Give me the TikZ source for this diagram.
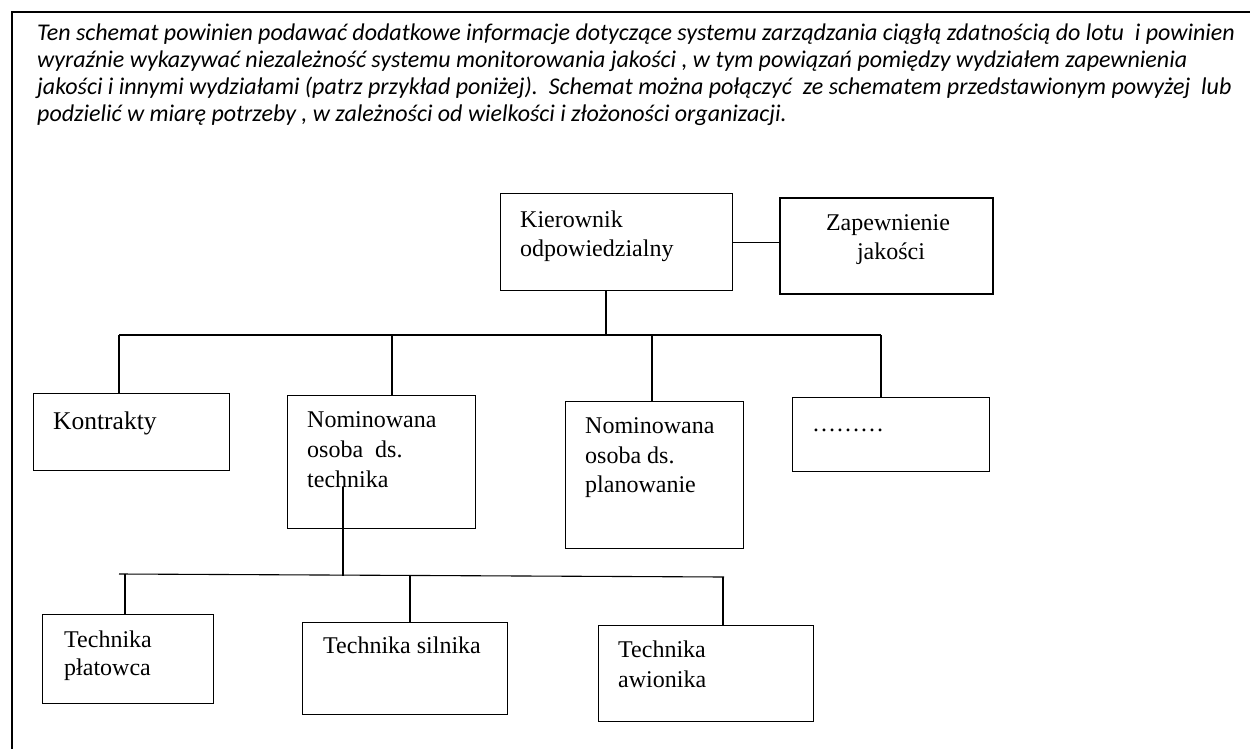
\documentclass[tikz,border=0pt]{standalone}
\usepackage{fontspec}
\setmainfont{Liberation Serif}
\newfontfamily\calfont{Carlito}
\usetikzlibrary{positioning}

\begin{document}
\begin{tikzpicture}[x=1pt,y=-1pt,
  box/.style={draw,line width=1.1pt,rectangle,anchor=north west,inner sep=0pt},
  qabox/.style={box,line width=2.4pt},
  lbl/.style={anchor=base west,inner sep=0pt,font=\fontsize{24}{29}\selectfont},
  hdr/.style={anchor=base west,inner sep=0pt,font=\calfont\itshape\fontsize{24}{27}\selectfont},
  conn/.style={line width=1.1pt},
]
\useasboundingbox (0,0) rectangle (1250,749);

% frame
\draw[line width=2pt] (1250,12) -- (12,12) -- (12,749);

% header text
\node[hdr] (h1) at (37,41) {Ten schemat powinien podawać dodatkowe informacje dotyczące systemu zarządzania ciągłą zdatnością do lotu\ \ i powinien};
\node[hdr] (h2) at (37,68) {wyraźnie wykazywać niezależność systemu monitorowania jakości , w tym powiązań pomiędzy wydziałem zapewnienia};
\node[hdr] (h3) at (37,95) {jakości i innymi wydziałami (patrz przykład poniżej).\ \ Schemat można połączyć\ \ ze schematem przedstawionym powyżej\ \ lub};
\node[hdr] (h4) at (37,122) {podzielić w miarę potrzeby , w zależności od wielkości i złożoności organizacji.};

% top level
\node[box,minimum width=232pt,minimum height=97pt] (kier) at (500,193) {};
\node[lbl] (kierT1) at (520,227) {Kierownik};
\node[lbl] (kierT2) at (520,256) {odpowiedzialny};
\node[qabox,minimum width=213pt,minimum height=96pt] (zap) at (779,197) {};
\node[lbl,anchor=base] (zapT1) at (888,230) {Zapewnienie};
\node[lbl,anchor=base] (zapT2) at (891,259) {jakości};
\draw[conn] (kier.east) -- (kier.east -| zap.west);

% departments
\node[box,minimum width=196pt,minimum height=77pt] (kontr) at (33,393) {};
\node[lbl,font=\fontsize{25.5}{30}\selectfont] (kontrT) at (53,429) {Kontrakty};
\node[box,minimum width=188pt,minimum height=133pt] (nomT) at (287,395) {};
\node[lbl] (nomT1) at (307,427) {Nominowana};
\node[lbl] (nomT2) at (307,457) {osoba\ \ ds.};
\node[lbl] (nomT3) at (307,487) {technika};
\node[box,minimum width=178pt,minimum height=147pt] (nomP) at (565,401) {};
\node[lbl] (nomP1) at (585,433) {Nominowana};
\node[lbl] (nomP2) at (585,463) {osoba ds.};
\node[lbl] (nomP3) at (585,492) {planowanie};
\node[box,minimum width=197pt,minimum height=74pt] (dots) at (792,397) {};
\node[lbl] (dotsT) at (812,431) {………};

\coordinate (kdrop) at (606,335);
\coordinate (dK) at (119,335);
\coordinate (dT) at (392,335);
\coordinate (dP) at (652,335);
\coordinate (dD) at (881,335);
\draw[conn] (kier.south -| kdrop) -- (kdrop);
\draw[conn] (dK) -- (dD);
\foreach \d/\n in {dK/kontr,dT/nomT,dP/nomP,dD/dots}
  \draw[conn] (\d) -- (\d |- \n.north);

% engineering
\node[box,minimum width=171pt,minimum height=89pt] (plat) at (42,614) {};
\node[lbl] (platT1) at (64,647) {Technika};
\node[lbl] (platT2) at (64,675) {płatowca};
\node[box,minimum width=205pt,minimum height=92pt] (siln) at (302,622) {};
\node[lbl] (silnT) at (323,653) {Technika silnika};
\node[box,minimum width=215pt,minimum height=96pt] (awio) at (598,625) {};
\node[lbl] (awioT1) at (618,657) {Technika};
\node[lbl] (awioT2) at (618,687) {awionika};

\coordinate (tsrc) at (343,487);
\coordinate (tbus) at (343,575.5);
\coordinate (lbusA) at (119,574);
\coordinate (lbusB) at (724,577);
\coordinate (eP) at (125,574);
\coordinate (eS) at (410,575.5);
\coordinate (eA) at (723,577);
\draw[conn] (tsrc) -- (tbus);
\draw[conn] (lbusA) -- (lbusB);
\foreach \d/\n in {eP/plat,eS/siln,eA/awio}
  \draw[conn] (\d) -- (\d |- \n.north);

\end{tikzpicture}
\end{document}
